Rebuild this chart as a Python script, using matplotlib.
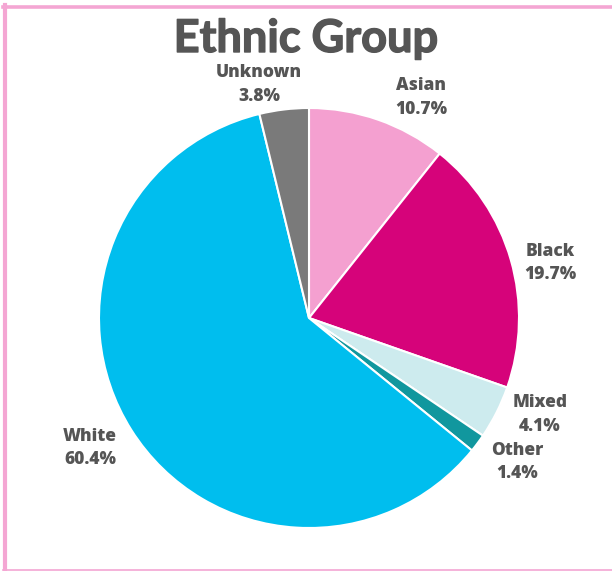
import matplotlib
matplotlib.use("Agg")
import matplotlib.pyplot as plt
import matplotlib.patheffects as pe
from matplotlib.lines import Line2D

# data
groups = ["Asian", "Black", "Mixed", "Other", "White", "Unknown"]
shares = [10.7, 19.7, 4.1, 1.4, 60.4, 3.8]
colors = ["#F4A0D0", "#D6037A", "#CDEBEE", "#11979E", "#00BEEE", "#7A7A7A"]
# label anchors in pie radii (x, y from centre)
label_pos = [(0.533, 1.05), (1.148, 0.262), (1.10, -0.46),
             (0.99, -0.685), (-1.043, -0.62), (-0.238, 1.112)]

plt.rcParams['font.family'] = ['Lato', 'DejaVu Sans']

W, H = 612, 571
fig = plt.figure(figsize=(W / 100, H / 100), dpi=100)

# pie centre and radius in pixels
cx, cy, r = 309, 318, 210
ax = fig.add_axes([(cx - r) / W, (H - cy - r) / H, 2 * r / W, 2 * r / H])

labels = [f"{g}\n{v}%" for g, v in zip(groups, shares)]
wedges, texts = ax.pie(shares, colors=colors, labels=labels, startangle=90,
                       counterclock=False, radius=1,
                       wedgeprops=dict(edgecolor="white", linewidth=1.5),
                       textprops=dict(color="#555555", fontsize=12.5,
                                      family=["Open Sans", "DejaVu Sans"],
                                      fontweight=800, linespacing=1.5))
for t, p in zip(texts, label_pos):
    t.set_position(p)
    t.set_ha("center")
    t.set_va("center")
ax.set_xlim(-1, 1)
ax.set_ylim(-1, 1)
ax.set_aspect("auto")
ax.axis("off")

fig.text(0.5, 1 - 52 / H, "Ethnic Group", ha="center", va="baseline",
         fontsize=32.5, fontweight="bold", color="#555555",
         path_effects=[pe.withStroke(linewidth=1.0, foreground="#555555")])

# pink frame (top, left, bottom)
pink = "#F4A6D3"
fig.add_artist(Line2D([3 / W, 1], [1 - 6.5 / H, 1 - 6.5 / H], color=pink,
                      lw=2.6, transform=fig.transFigure))
fig.add_artist(Line2D([5 / W, 5 / W], [0, 1 - 5 / H], color=pink,
                      lw=3, transform=fig.transFigure))
fig.add_artist(Line2D([3 / W, 1], [1.5 / H, 1.5 / H], color=pink,
                      lw=1.2, transform=fig.transFigure))

fig.savefig("out.png", dpi=100)
